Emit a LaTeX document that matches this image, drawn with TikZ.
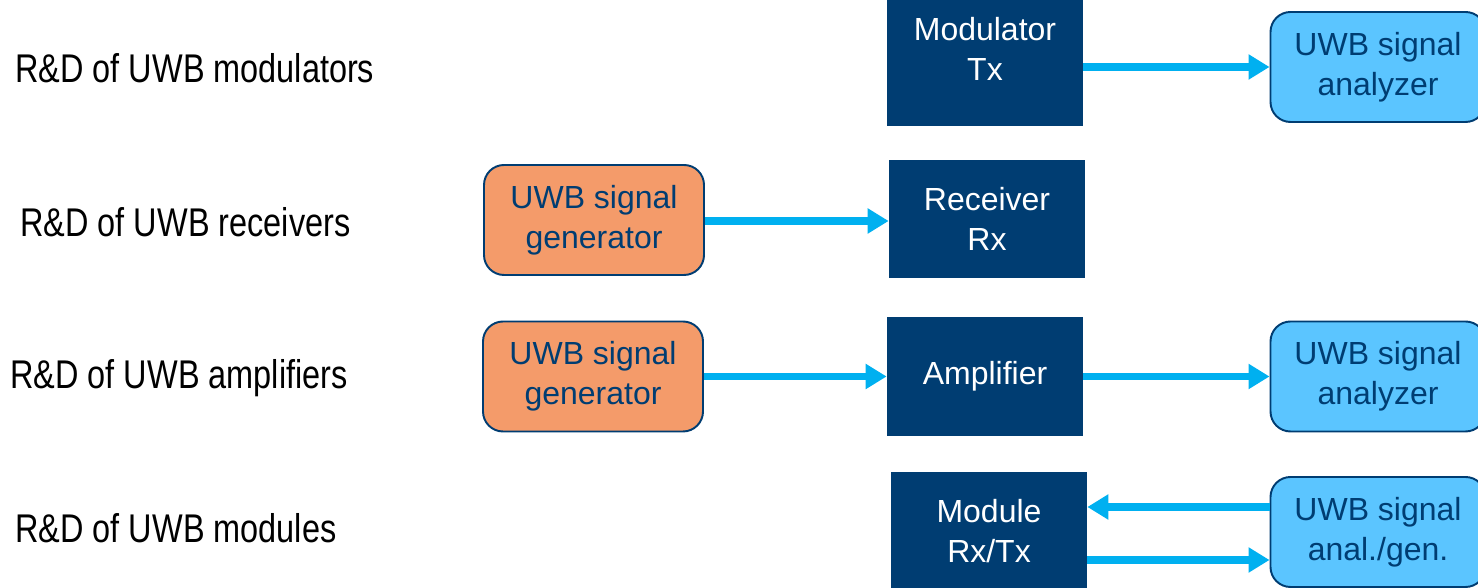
\documentclass[tikz,border=0pt]{standalone}
\usepackage{fontspec}
\setmainfont{Liberation Sans}
\newfontfamily\narrowfont{Liberation Sans}[FakeStretch=0.81]
\usetikzlibrary{arrows.meta}
\definecolor{navy}{RGB}{0,61,114}
\definecolor{skyfill}{RGB}{91,197,255}
\definecolor{flowblue}{RGB}{0,176,240}
\definecolor{genfill}{RGB}{244,155,106}
\tikzset{
  device/.style={fill=navy, text=white, minimum width=3.92cm, minimum height=2.36cm,
    align=center, font=\fontsize{18.2}{22.7}\selectfont},
  instr/.style={draw=navy, line width=1.1pt, rounded corners=0.4cm, text=navy,
    minimum width=4.3cm, minimum height=2.2cm, align=center,
    font=\fontsize{18.2}{22.7}\selectfont},
  analyzer/.style={instr, fill=skyfill},
  generator/.style={instr, fill=genfill, minimum width=4.4cm},
  task/.style={anchor=west, inner sep=0pt, font=\narrowfont\fontsize{22.8}{27}\selectfont},
  flow/.style={draw=flowblue, line width=4pt, -{Triangle[length=0.42cm, width=0.48cm]}}
}
\begin{document}
\begin{tikzpicture}
\clip (0,0) rectangle (29.56,11.76);
\fill[white] (0,0) rectangle (29.56,11.76);
% tasks
\node at (0.3, 10.40) [task] (t1) {R\&D of UWB modulators};
\node at (0.4, 7.32) [task] (t2) {R\&D of UWB receivers};
\node at (0.2, 4.20) [task] (t3) {R\&D of UWB amplifiers};
\node at (0.3, 1.20) [task] (t4) {R\&D of UWB modules};
% row 1
\node at (19.70, 10.78) [device, minimum height=3.08cm] (mod) {Modulator\\Tx};
\node at (27.56, 10.42) [analyzer] (ana1) {UWB signal\\analyzer};
\draw[flow] (mod.east |- ana1) -- (ana1);
% row 2
\node at (11.88, 7.36) [generator] (gen2) {UWB signal\\generator};
\node at (19.74, 7.38) [device] (rx) {Receiver\\Rx};
\draw[flow] ([yshift=-0.02cm]gen2.east) -- ([yshift=-0.02cm]gen2.east -| rx.west);
% row 3
\node at (11.86, 4.23) [generator] (gen3) {UWB signal\\generator};
\node at (19.70, 4.23) [device, minimum height=2.38cm] (amp) {Amplifier};
\node at (27.56, 4.23) [analyzer] (ana3) {UWB signal\\analyzer};
\draw[flow] (gen3) -- (amp);
\draw[flow] (amp) -- (ana3);
% row 4
\node at (19.78, 1.14) [device] (mrt) {Module\\Rx/Tx};
\node at (27.56, 1.12) [analyzer] (ana4) {UWB signal\\anal./gen.};
\draw[flow] ([yshift=0.48cm]mrt.east -| ana4.west) -- ([yshift=0.48cm]mrt.east);
\draw[flow] ([yshift=-0.58cm]mrt.east) -- ([yshift=-0.58cm]mrt.east -| ana4.west);
\end{tikzpicture}
\end{document}
